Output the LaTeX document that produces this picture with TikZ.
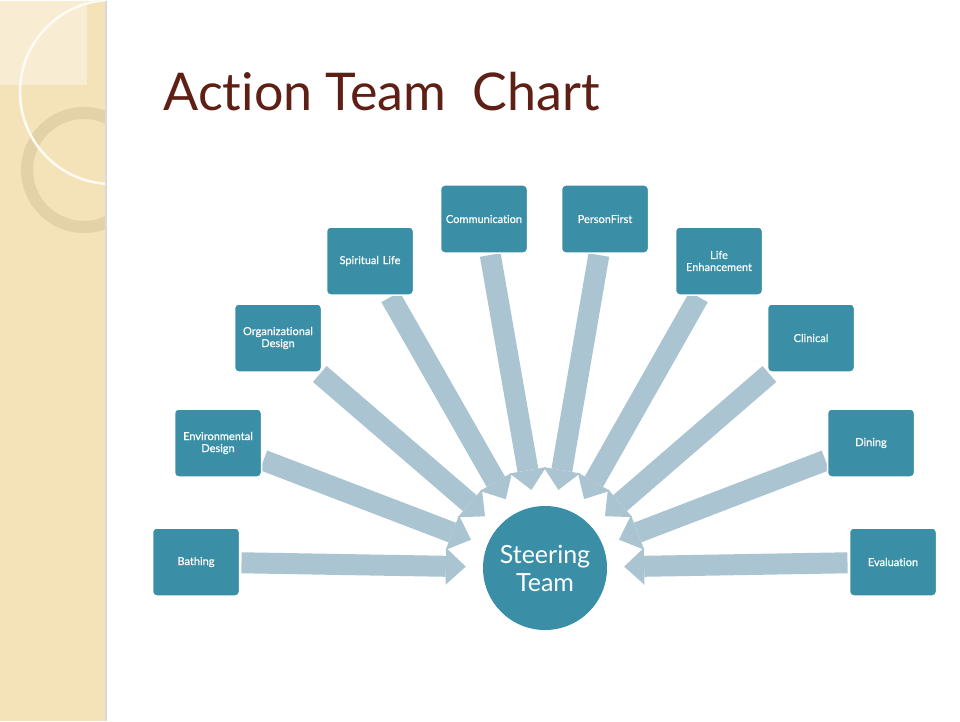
\documentclass[tikz,border=0pt]{standalone}
\usepackage{fontspec}
\setmainfont{Lato}[Ligatures=NoCommon]
\newfontfamily\boxfont{Lato}[Ligatures=NoCommon,FakeBold=0.6]
\usetikzlibrary{arrows.meta,backgrounds}
\definecolor{teamteal}{HTML}{3A8EA6}
\definecolor{feedblue}{HTML}{AAC5D1}
\definecolor{titlebrown}{HTML}{5E1F14}
\definecolor{stripbeige}{HTML}{F4E3B8}
\definecolor{stripsquare}{HTML}{F8EDD2}
\definecolor{ringtan}{HTML}{D8C69C}
\tikzset{
  teambox/.style={rectangle,rounded corners=4pt,fill=teamteal,draw=white,line width=1.5pt,
    minimum width=87pt,minimum height=68pt,text width=82pt,align=center,text=white,
    font=\boxfont\fontsize{11}{12}\selectfont,inner sep=0pt,outer sep=2pt},
  hub/.style={circle,fill=teamteal,minimum size=124pt,inner sep=0pt,text=white,align=center,
    font=\fontsize{25}{28}\selectfont},
  feeder/.style={draw=feedblue,line width=21pt,shorten >=17pt,
    -{Triangle[width=37pt,length=20pt,line width=0pt]}}
}
\begin{document}
\begin{tikzpicture}[x=1pt,y=-1pt]
\node[anchor=base west,text=titlebrown,font=\fontsize{52}{56}\selectfont] (title) at (160,110) {Action Team~~Chart};
\node[teambox] (bath) at (196,561) {Bathing};
\node[teambox] (envdes) at (218,442) {Environmental\\Design};
\node[teambox] (orgdes) at (278,337) {Organizational\\Design};
\node[teambox] (spirit) at (370,260) {Spiritual Life};
\node[teambox] (comm) at (484,218) {Communication};
\node[teambox] (person) at (605,218) {PersonFirst};
\node[teambox] (lifeenh) at (719,260) {Life\\Enhancement};
\node[teambox] (clin) at (811,337) {Clinical};
\node[teambox] (dining) at (871,442) {Dining};
\node[teambox] (evalu) at (893,561) {Evaluation};
\node[hub] (steer) at (545,567) {Steering\\Team};
\begin{scope}[on background layer]
\fill[white] (0,0) rectangle (960,720);
\begin{scope}
\clip (0,0) rectangle (105,720);
\fill[stripbeige] (0,0) rectangle (105,720);
\fill[stripsquare] (0,0) rectangle (87,84);
\draw[ringtan,opacity=0.6,line width=12pt] (84,169) circle (57pt);
\draw[white!85!stripbeige,line width=2.5pt] (112,91) circle (92pt);
\end{scope}
\draw[black!15,line width=2pt] (106,0) -- (106,720);
\draw[feeder] (bath) -- (steer);
\draw[feeder] (envdes) -- (steer);
\draw[feeder] (orgdes) -- (steer);
\draw[feeder] (spirit) -- (steer);
\draw[feeder] (comm) -- (steer);
\draw[feeder] (person) -- (steer);
\draw[feeder] (lifeenh) -- (steer);
\draw[feeder] (clin) -- (steer);
\draw[feeder] (dining) -- (steer);
\draw[feeder] (evalu) -- (steer);
\end{scope}
\end{tikzpicture}
\end{document}
